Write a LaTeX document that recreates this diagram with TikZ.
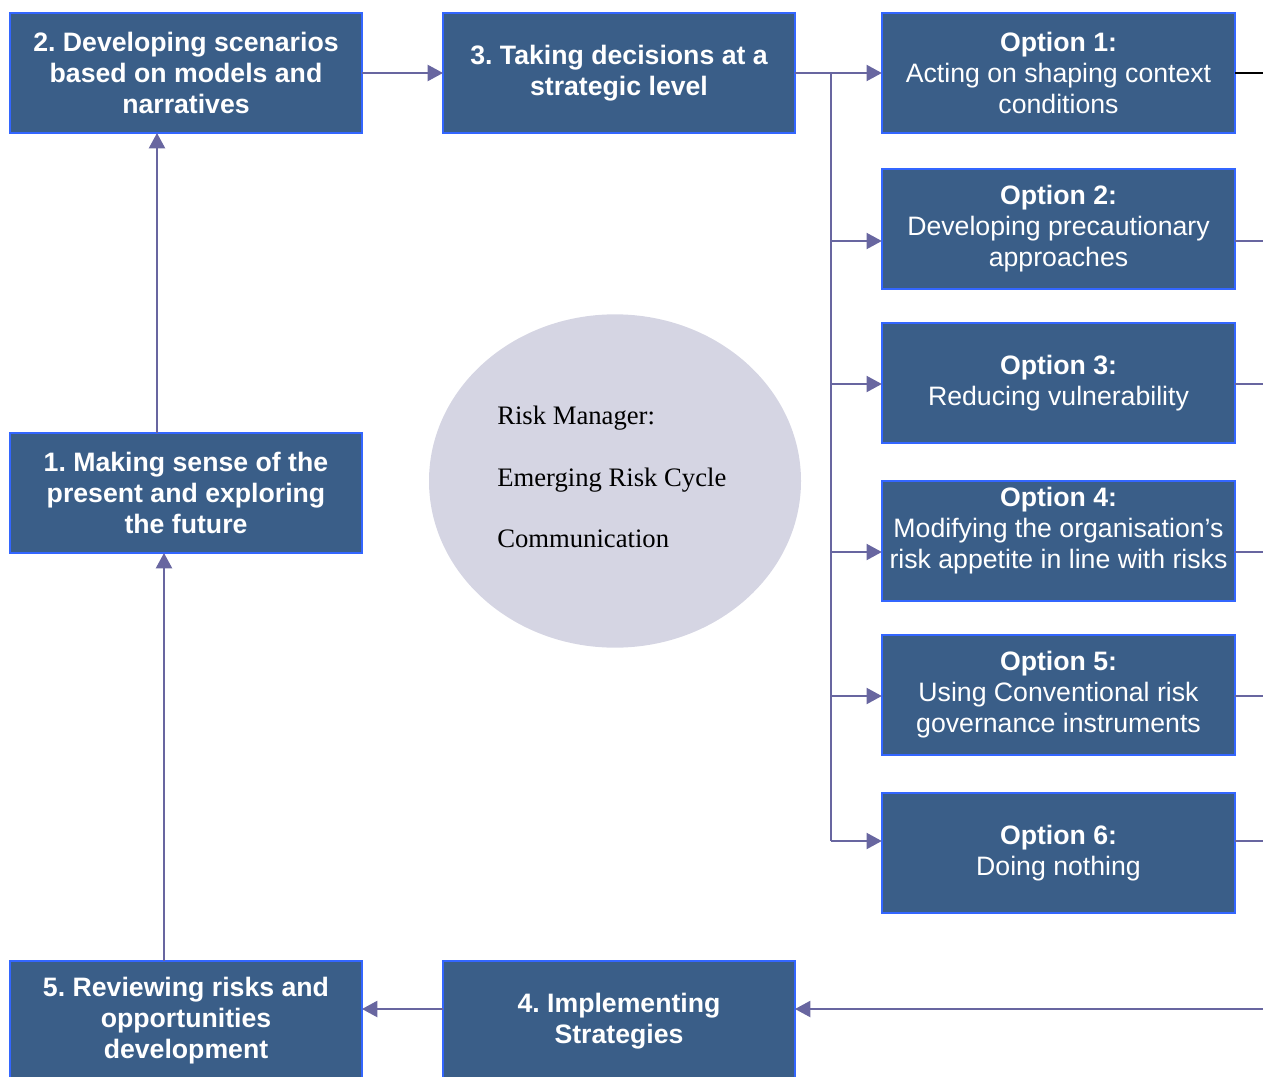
\documentclass[tikz,border=0pt]{standalone}
\usepackage{fontspec}
\setmainfont{Liberation Serif}
\setsansfont{Liberation Sans}
\usepackage{xcolor}
\usetikzlibrary{arrows.meta,shapes.geometric}

\definecolor{boxfill}{HTML}{3A5E88}
\definecolor{boxline}{HTML}{3366FF}
\definecolor{linkcol}{HTML}{6866A0}
\definecolor{cyclefill}{HTML}{D5D5E3}

\begin{document}
\frenchspacing
\begin{tikzpicture}[x=0.75pt,y=-0.75pt,
    stepbox/.style={draw=boxline,fill=boxfill,line width=1.4pt,minimum width=264pt,minimum height=90pt,
      outer sep=0pt,text=white,align=center,font=\sffamily\bfseries\fontsize{20}{23.3}\selectfont},
    optbox/.style={stepbox,minimum width=265pt,font=\sffamily\fontsize{20}{23.3}\selectfont},
    conn/.style={draw=linkcol,line width=1.7pt},
    arr/.style={conn,-{Triangle[length=11.5pt,width=12pt]}}]
  \clip (0,0) rectangle (1263,1077);

  % steps of the cycle
  \node[stepbox] (s2) at (186,73) {2. Developing scenarios\\based on models and\\narratives};
  \node[stepbox] (s3) at (619,73) {3. Taking decisions at a\\strategic level};
  \node[stepbox] (s1) at (186,493) {1. Making sense of the\\present and exploring\\the future};
  \node[stepbox] (s5) at (186,1021) {5. Reviewing risks and\\opportunities\\development};
  \node[stepbox] (s4) at (619,1021) {4. Implementing\\Strategies};

  % options
  \node[optbox] (opt1) at (1058.5,73) {\textbf{Option 1:}\\Acting on shaping context\\conditions};
  \node[optbox] (opt2) at (1058.5,229) {\textbf{Option 2:}\\Developing precautionary\\approaches};
  \node[optbox] (opt3) at (1058.5,383) {\textbf{Option 3:}\\Reducing vulnerability};
  \node[optbox] (opt4) at (1058.5,541) {};
  \node[optbox] (opt4txt) at (1058.5,531) [draw=none,fill=none,minimum height=0pt] {\textbf{Option 4:}\\Modifying the organisation’s\\risk appetite in line with risks};
  \node[optbox] (opt5) at (1058.5,695) {\textbf{Option 5:}\\Using Conventional risk\\governance instruments};
  \node[optbox] (opt6) at (1058.5,853) {\textbf{Option 6:}\\Doing nothing};

  % centre
  \node[ellipse,fill=cyclefill,minimum width=279pt,minimum height=250pt] (rm) at (615,481) {};
  \node[anchor=west,align=left,inner xsep=0pt,font=\fontsize{20}{46}\selectfont] (rmtxt) at (497,477) {Risk Manager:\\Emerging Risk Cycle\\Communication};

  % links
  \draw[arr] (s2.east) -- (s3.west);
  \draw[arr] (s3.east) -- (opt1.west);
  \coordinate (spine) at (831,73);
  \draw[conn] (spine) -- (831,841);
  \foreach \i/\y in {2/241,3/384,4/552,5/696,6/841} {
    \draw[arr] (831,\y) -- (opt\i.west |- 0,\y);
    \draw[conn] (opt\i.east |- 0,\y) -- (1263,\y);
  }
  \draw[black,line width=1.1pt] (opt1.east) -- (1263,73);
  \coordinate (back) at (1263,1009);
  \draw[arr] (back) -- (s4.east |- back);
  \draw[arr] (s4.west |- back) -- (s5.east |- back);
  \draw[arr] (s5.north -| 164,0) -- (s1.south -| 164,0);
  \draw[arr] (s1.north -| 157,0) -- (s2.south -| 157,0);
\end{tikzpicture}
\end{document}
